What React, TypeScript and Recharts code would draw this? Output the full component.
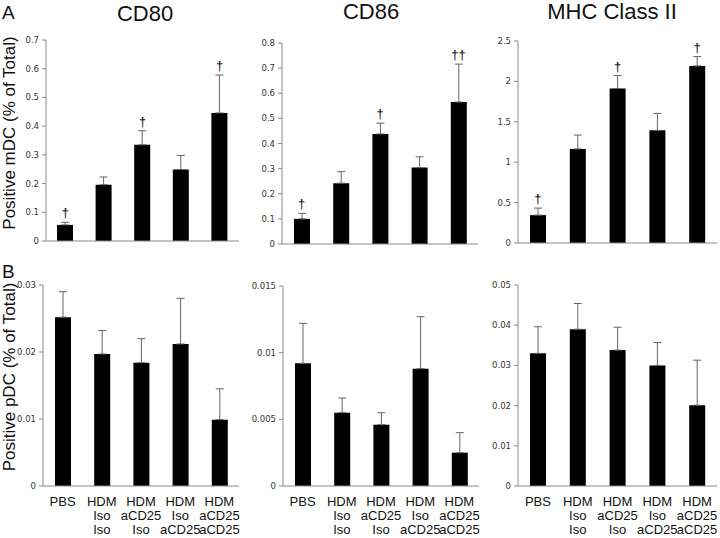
import React from "react";
import { ComposedChart, Bar, ErrorBar, Line, XAxis, YAxis } from "recharts";

// treatment groups (words stack on separate lines under each bar)
const groups = ["PBS", "HDM Iso Iso", "HDM aCD25 Iso", "HDM Iso aCD25", "HDM aCD25 aCD25"];

// A: positive mDC (% of total)
const cd80Mean = [0.056, 0.196, 0.335, 0.249, 0.446];
const cd80Err = [0.009, 0.027, 0.049, 0.049, 0.132];
const cd80Marks = ["†", "", "†", "", "†"];
const cd80Ticks = [0, 0.1, 0.2, 0.3, 0.4, 0.5, 0.6, 0.7];

const cd86Mean = [0.1, 0.242, 0.438, 0.304, 0.565];
const cd86Err = [0.022, 0.046, 0.043, 0.043, 0.151];
const cd86Marks = ["†", "", "†", "", "††"];
const cd86Ticks = [0, 0.1, 0.2, 0.3, 0.4, 0.5, 0.6, 0.7, 0.8];

const mhcMean = [0.345, 1.164, 1.912, 1.394, 2.192];
const mhcErr = [0.087, 0.172, 0.16, 0.21, 0.115];
const mhcMarks = ["†", "", "†", "", "†"];
const mhcTicks = [0, 0.5, 1, 1.5, 2, 2.5];

// B: positive pDC (% of total)
const pdc80Mean = [0.0252, 0.0197, 0.0184, 0.0212, 0.0099];
const pdc80Err = [0.0038, 0.0035, 0.0036, 0.0068, 0.0046];
const pdc80Ticks = [0, 0.01, 0.02, 0.03];

const pdc86Mean = [0.0092, 0.0055, 0.0046, 0.0088, 0.0025];
const pdc86Err = [0.003, 0.0011, 0.0009, 0.0039, 0.0015];
const pdc86Ticks = [0, 0.005, 0.01, 0.015];

const pdcMhcMean = [0.033, 0.039, 0.0338, 0.03, 0.0201];
const pdcMhcErr = [0.0066, 0.0064, 0.0057, 0.0057, 0.0112];
const pdcMhcTicks = [0, 0.01, 0.02, 0.03, 0.04, 0.05];

const FONT = "'Liberation Sans', Arial, sans-serif";
const FRAME = "#8a8a8a";

const makeRows = (mean: number[], err: number[], marks?: string[]) =>
  groups.map((name, i) => ({
    name,
    mean: mean[i],
    err: [0, err[i]],
    top: mean[i] + err[i],
    mark: marks ? marks[i] : "",
  }));

const GroupTick = (props: any) => {
  const { x, y, payload } = props;
  const words = String(payload.value).split(" ");
  return (
    <text x={x} y={y} textAnchor="middle" fontSize={13} fontFamily={FONT} fill="#111">
      {words.map((w, i) => (
        <tspan key={i} x={x} y={y + 20 + i * 14}>
          {w}
        </tspan>
      ))}
    </text>
  );
};

type Box = { l: number; t: number; r: number; b: number };

function Panel({ rows, ticks, box, labels }: { rows: any[]; ticks: number[]; box: Box; labels?: boolean }) {
  const YW = 40;
  const MT = 12;
  const MR = 3;
  const XH = labels ? 52 : 4;
  const w = box.r - box.l + YW + MR;
  const h = box.b - box.t + MT + XH;

  const renderMark = (p: any) => {
    const m = rows[p.index]?.mark;
    if (!m) return null;
    return (
      <text key={`m${p.index}`} x={p.x} y={p.y - 5} textAnchor="middle" fontSize={13} fontFamily={FONT} fill="#000">
        {m}
      </text>
    );
  };

  return (
    <div style={{ position: "absolute", left: box.l - YW, top: box.t - MT }}>
      <ComposedChart width={w} height={h} data={rows} margin={{ top: MT, right: MR, left: 0, bottom: 0 }}>
        <XAxis
          dataKey="name"
          height={XH}
          interval={0}
          axisLine={{ stroke: FRAME }}
          tickLine={false}
          tickSize={0}
          tickMargin={0}
          tick={labels ? <GroupTick /> : false}
        />
        <XAxis
          xAxisId="frame"
          orientation="top"
          dataKey="name"
          height={0}
          axisLine={{ stroke: FRAME }}
          tickLine={false}
          tick={false}
        />
        <YAxis
          width={YW}
          type="number"
          domain={[0, ticks[ticks.length - 1]]}
          ticks={ticks}
          interval={0}
          tickFormatter={(v: number) => String(v)}
          axisLine={{ stroke: FRAME }}
          tickLine={{ stroke: FRAME }}
          tickSize={4}
          tickMargin={3}
          tick={{ fontSize: 8.5, fill: "#333", fontFamily: "'DejaVu Sans', Verdana, sans-serif" }}
        />
        <YAxis
          yAxisId="frame"
          orientation="right"
          width={0}
          type="number"
          domain={[0, 1]}
          axisLine={{ stroke: FRAME }}
          tickLine={false}
          tick={false}
        />
        <Bar dataKey="mean" fill="#000" barSize={16} isAnimationActive={false}>
          <ErrorBar dataKey="err" direction="y" width={4} stroke="#666" strokeWidth={1} />
        </Bar>
        <Line
          dataKey="top"
          stroke="none"
          dot={false}
          activeDot={false}
          isAnimationActive={false}
          label={renderMark}
        />
      </ComposedChart>
    </div>
  );
}

export default function App() {
  return (
    <div style={{ position: "absolute", left: 0, top: 0, width: 720, height: 538, overflow: "hidden", background: "#fff" }}>
      <svg width={720} height={538} style={{ position: "absolute", left: 0, top: 0 }} fontFamily={FONT}>
        <text x={2} y={18.5} fontSize={19} fill="#111">A</text>
        <text x={2} y={278} fontSize={19} fill="#111">B</text>
        <text x={145} y={20.5} fontSize={22} textAnchor="middle" fill="#111">CD80</text>
        <text x={371} y={18.5} fontSize={22} textAnchor="middle" fill="#111">CD86</text>
        <text x={612} y={18.5} fontSize={22} textAnchor="middle" fill="#111">MHC Class II</text>
        <text transform="translate(15,133) rotate(-90)" fontSize={17} textAnchor="middle" fill="#111">
          Positive mDC (% of Total)
        </text>
        <text transform="translate(15,377) rotate(-90)" fontSize={17} textAnchor="middle" fill="#111">
          Positive pDC (% of Total)
        </text>
      </svg>
      <Panel rows={makeRows(cd80Mean, cd80Err, cd80Marks)} ticks={cd80Ticks} box={{ l: 46, t: 40, r: 239, b: 241 }} />
      <Panel rows={makeRows(cd86Mean, cd86Err, cd86Marks)} ticks={cd86Ticks} box={{ l: 282, t: 43, r: 478, b: 244 }} />
      <Panel rows={makeRows(mhcMean, mhcErr, mhcMarks)} ticks={mhcTicks} box={{ l: 518, t: 41, r: 717, b: 243 }} />
      <Panel rows={makeRows(pdc80Mean, pdc80Err)} ticks={pdc80Ticks} box={{ l: 43, t: 285, r: 239, b: 486 }} labels />
      <Panel rows={makeRows(pdc86Mean, pdc86Err)} ticks={pdc86Ticks} box={{ l: 283, t: 286, r: 479, b: 486 }} labels />
      <Panel rows={makeRows(pdcMhcMean, pdcMhcErr)} ticks={pdcMhcTicks} box={{ l: 518, t: 285, r: 717, b: 486 }} labels />
    </div>
  );
}
